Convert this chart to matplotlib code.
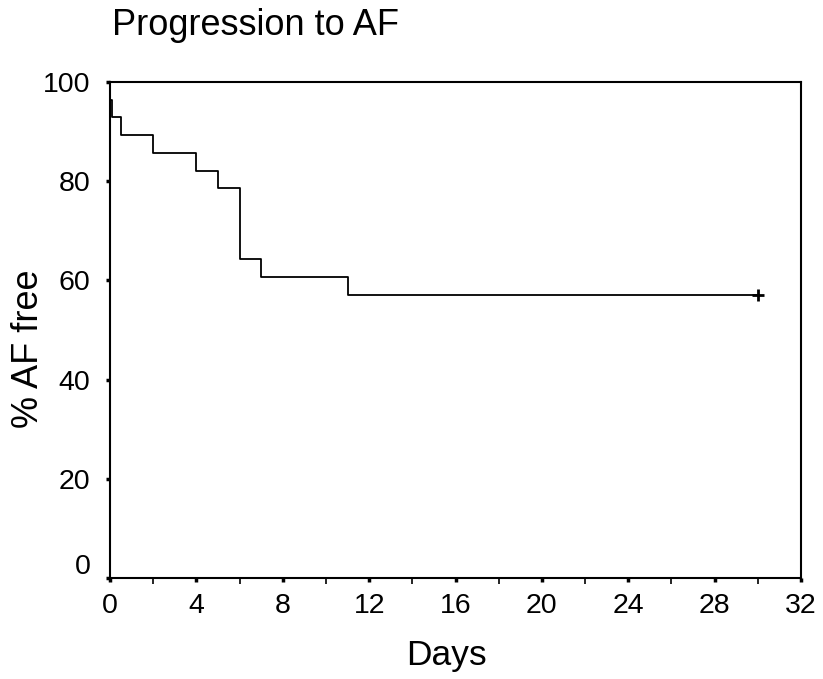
import matplotlib
matplotlib.use("Agg")
import matplotlib.pyplot as plt
from matplotlib.transforms import ScaledTranslation
import numpy as np

plt.rcParams['font.family'] = ['Liberation Sans', 'DejaVu Sans']

# Kaplan-Meier step data (time in days, % AF free after the step)
event_days = [0, 0, 0.1, 0.5, 2, 4, 5, 6, 7, 11, 30]
survival = [100, 96.4, 92.9, 89.3, 85.7, 82.1, 78.6, 64.3, 60.7, 57.1, 57.1]
censor_days = [30]
censor_vals = [57.1]

xticks = [0, 4, 8, 12, 16, 20, 24, 28, 32]
xminor = [2, 6, 10, 14, 18, 22, 26, 30]
yticks = [0, 20, 40, 60, 80, 100]

W, H = 823, 679
fig = plt.figure(figsize=(W/100, H/100), dpi=100)
ax = fig.add_axes([110/W, 1-578/H, (801-110)/W, (578-82)/H])

ax.step(event_days, survival, where='post', color='black', lw=1.3)
ax.plot(censor_days, censor_vals, marker='+', color='black', ms=8, mew=2, ls='none')

ax.set_xlim(0, 32)
ax.set_ylim(0, 100)
ax.set_xticks(xticks)
ax.set_xticks(xminor, minor=True)
ax.set_yticks(yticks)
ax.tick_params(axis='both', which='major', labelsize=20.5, direction='out', length=3, width=2.5)
ax.tick_params(axis='x', which='major', pad=8)
ax.tick_params(axis='y', which='major', pad=11)
ax.tick_params(axis='x', which='minor', direction='out', length=4, width=1.2)
for s in ax.spines.values():
    s.set_linewidth(1.5)

# raise the y "0" label above the x-axis labels
lab0 = ax.yaxis.get_major_ticks()[0].label1
lab0.set_transform(lab0.get_transform() + ScaledTranslation(0, 14/100, fig.dpi_scale_trans))

fig.text(446/W, 1-656/H, 'Days', fontsize=25.5, ha='center', va='center')
fig.text(28.5/W, 1-349/H, '% AF free', fontsize=26, ha='center', va='center', rotation=90)
fig.text(112/W, 1-35/H, 'Progression to AF', fontsize=26, ha='left', va='baseline')

fig.savefig('out.png', dpi=100)
